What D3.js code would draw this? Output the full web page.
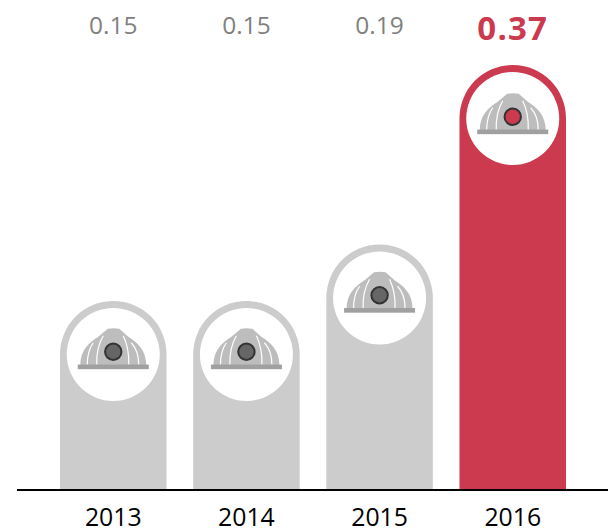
<!DOCTYPE html>
<html><head><meta charset="utf-8">
<script src="https://cdn.jsdelivr.net/npm/d3@7"></script>
<style>html,body{margin:0;padding:0;background:#fff}svg{display:block}text{font-family:"Open Sans",sans-serif}</style>
</head><body><svg id="c" width="608" height="529"></svg>
<script>
const categories = ["2013","2014","2015","2016"];
const values = [0.15,0.15,0.19,0.37];
const valueLabels = ["0.15","0.15","0.19","0.37"];
const colors = ["#cccccc","#cccccc","#cccccc","#cb3a4e"];
const lampColors = ["#666666","#666666","#666666","#cb3a4e"];

const svg = d3.select("#c");
const baseY = 490;
const x = d3.scaleBand().domain(categories).range([60,566]).paddingInner(0.2).paddingOuter(0);
// the source graphic is not strictly proportional: piecewise scale
const y = d3.scaleLinear().domain([0,0.15,0.19,0.37]).range([baseY,301,244.5,65]);
const R = x.bandwidth()/2, r = 46.5;

const g = svg.selectAll("g.bar").data(categories).join("g").attr("class","bar")
  .attr("transform",d=>`translate(${x(d)+R},0)`);

g.append("path").attr("fill",(d,i)=>colors[i]).attr("d",(d,i)=>{
  const t=y(values[i]);
  return `M${-R},${baseY}V${t+R}A${R},${R} 0 0 1 ${R},${t+R}V${baseY}Z`;
});
g.append("circle").attr("cy",(d,i)=>y(values[i])+R+0.2).attr("r",r).attr("fill","#fff");

const helmet = g.append("g").attr("transform",(d,i)=>`translate(0,${y(values[i])+R+(i===3?1:0)})`);
helmet.append("path").attr("fill","#bdbdbd")
  .attr("d","M-33,11C-33,-4 -24,-12 -15,-17.5L-5.5,-25.5Q0,-26.5 6,-25.5L15,-17.5C24,-12 33,-4 33,11Z");
helmet.selectAll("path.rib").data([
  "M-26,10.5C-26,2 -24,-6 -20,-11.5",
  "M-16.5,10.5C-17,-2 -15,-10 -10,-18.5",
  "M15.5,10.5C16,-2 14,-10 10,-18.5",
  "M25.5,10.5C25.5,2 23,-6 18,-11.5"
]).join("path").attr("class","rib").attr("d",d=>d).attr("fill","none").attr("stroke","#fff").attr("stroke-width",1.2);
helmet.append("rect").attr("x",-35.5).attr("y",10.3).attr("width",71).attr("height",4.6).attr("fill","#a0a0a0");
helmet.append("circle").attr("cy",-2.5).attr("r",8.2).attr("fill",(d,i)=>lampColors[i]).attr("stroke","#333").attr("stroke-width",2);

// value labels
svg.selectAll("text.v").data(valueLabels).join("text").attr("class","v")
  .attr("x",(d,i)=>x(categories[i])+R).attr("y",(d,i)=>i===3?40:34)
  .attr("text-anchor","middle")
  .attr("font-size",(d,i)=>i===3?33:24.5)
  .attr("letter-spacing",(d,i)=>i===3?1.2:0)
  .attr("font-weight",(d,i)=>i===3?700:400)
  .attr("fill",(d,i)=>i===3?"#cb3a4e":"#808080")
  .text(d=>d);

// axis
const axis = d3.axisBottom(x).tickSize(0).tickPadding(0);
const ax = svg.append("g").attr("transform",`translate(0,${baseY})`).call(axis);
ax.select(".domain").remove();
ax.selectAll("text").attr("font-size",24.8).attr("fill","#000").attr("dy",0).attr("y",36)
  .style("font-family",'"Open Sans",sans-serif');
svg.append("line").attr("x1",17).attr("x2",608).attr("y1",baseY).attr("y2",baseY).attr("stroke","#000").attr("stroke-width",2);
</script></body></html>
